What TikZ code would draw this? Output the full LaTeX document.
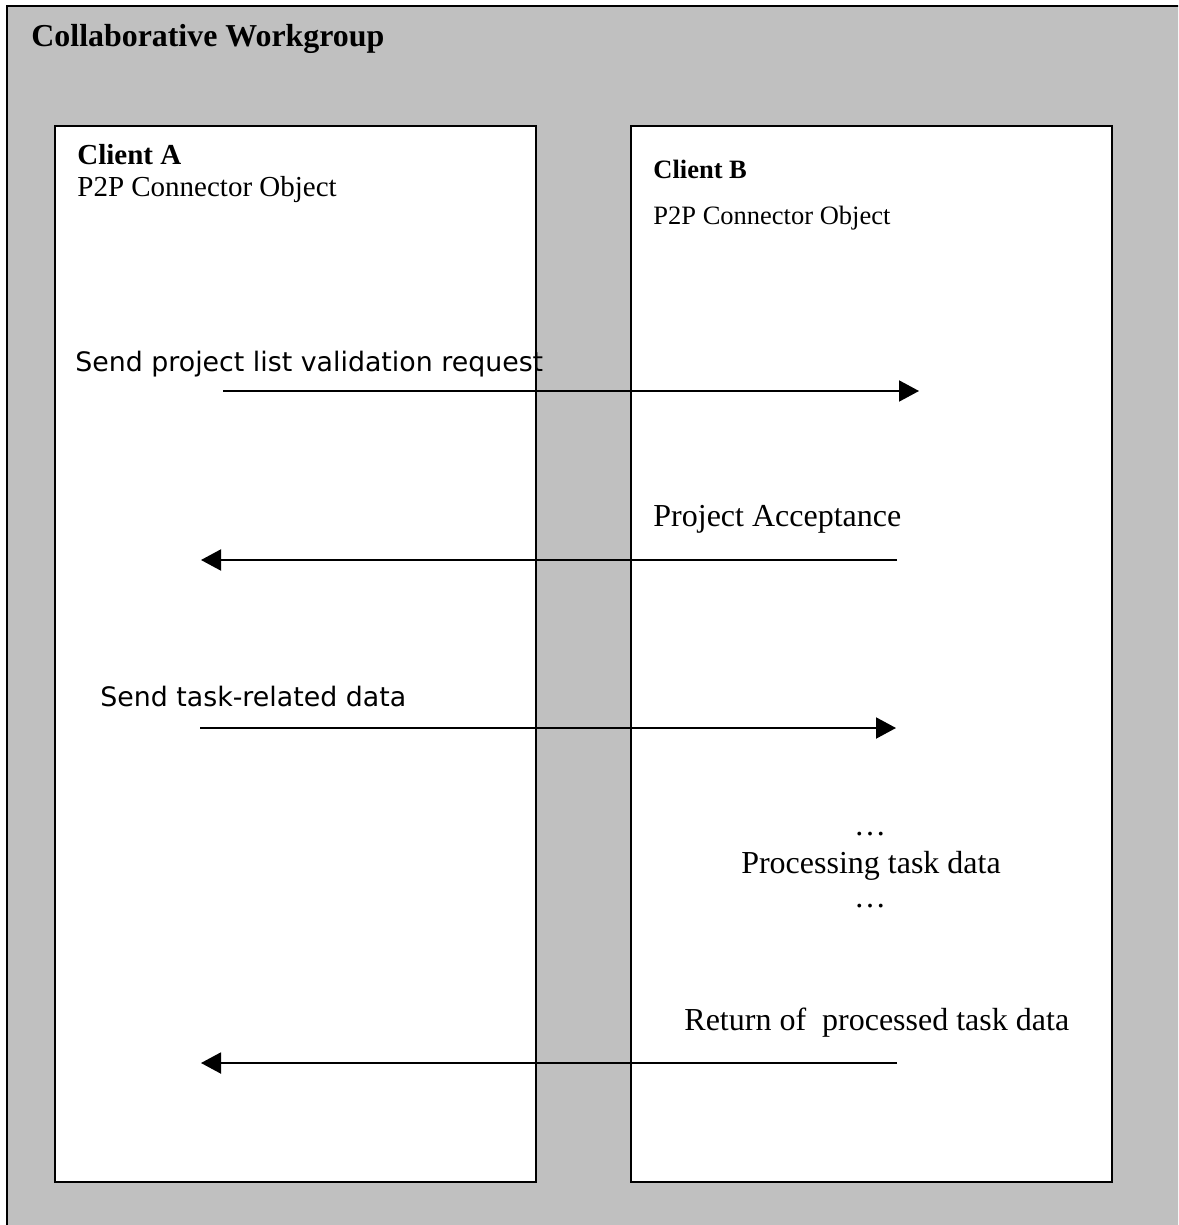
\documentclass[tikz,border=0pt]{standalone}
\usepackage{fontspec}
\setmainfont{Liberation Serif}
\newfontfamily\sendfont{DejaVu Sans}
\usetikzlibrary{arrows.meta}
\definecolor{wggray}{RGB}{192,192,192}

\begin{document}
\begin{tikzpicture}[x=0.5pt,y=-0.5pt,
  lane/.style={draw,line width=1.2pt,fill=white},
  msg/.style={line width=1pt,-{Triangle[length=10pt,width=10.5pt]}},
  lbl/.style={anchor=base west,inner sep=0pt},
  seriftxt/.style={lbl,font=\fontsize{16}{19}\selectfont},
  sanstxt/.style={lbl,font=\sendfont\fontsize{13.4}{16}\selectfont}]
\useasboundingbox (0,0) rectangle (1178,1225);
\clip (0,0) rectangle (1178,1225);
% workgroup
\draw[line width=1.2pt,fill=wggray] (7,6) rectangle (1260,1280);
\node[lbl,font=\fontsize{15.95}{19}\selectfont\bfseries] (wg) at (31,47) {Collaborative Workgroup};
% client boxes
\draw[lane] (55,126) rectangle (536,1182);
\draw[lane] (631,126) rectangle (1112,1182);
\node[lbl,font=\fontsize{14.5}{17}\selectfont\bfseries] (cla) at (77,165) {Client A};
\node[lbl,font=\fontsize{14.5}{17}\selectfont] (p2pa) at (77,197) {P2P Connector Object};
\node[lbl,font=\fontsize{13.25}{16}\selectfont\bfseries] (clb) at (653,179) {Client B};
\node[lbl,font=\fontsize{13.25}{16}\selectfont] (p2pb) at (653,225) {P2P Connector Object};

% messages
\node[sanstxt] (m1) at (75,371) {Send project list validation request};
\node[seriftxt] (m2) at (653,526) {Project Acceptance};
\node[sanstxt] (m3) at (100,706) {Send task-related data};
\node[seriftxt,anchor=base] (dots1) at (870,835) {\dots};
\node[seriftxt,anchor=base] (proc) at (871,873) {Processing task data};
\node[seriftxt,anchor=base] (dots2) at (870,907) {\dots};
\node[seriftxt] (m4) at (684,1030) {Return of~ processed task data};

% arrows
\coordinate (a1s) at (223,391);  \coordinate (a1e) at (919,391);
\coordinate (a2s) at (897,560);  \coordinate (a2e) at (201,560);
\coordinate (a3s) at (200,728);  \coordinate (a3e) at (896,728);
\coordinate (a4s) at (897,1063); \coordinate (a4e) at (201,1063);
\draw[msg] (a1s) -- (a1e);
\draw[msg] (a2s) -- (a2e);
\draw[msg] (a3s) -- (a3e);
\draw[msg] (a4s) -- (a4e);
\end{tikzpicture}
\end{document}
